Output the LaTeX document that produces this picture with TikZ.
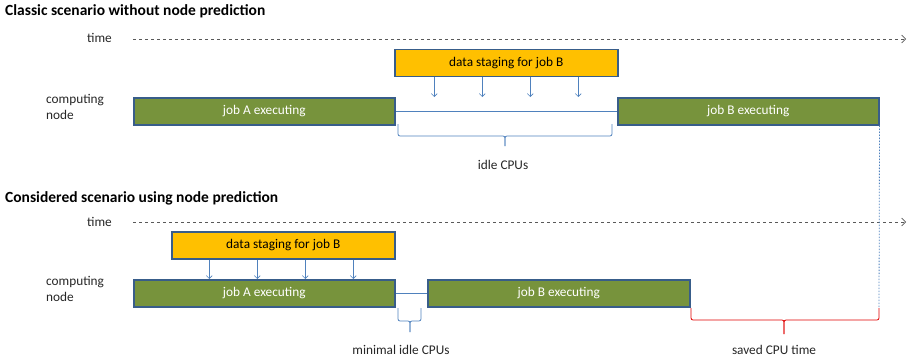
\documentclass[tikz,border=0pt]{standalone}
\usepackage{fontspec}
\setmainfont{Carlito}
\usetikzlibrary{positioning,arrows.meta}

\definecolor{jobgreen}{RGB}{119,147,60}
\definecolor{jobframe}{RGB}{56,93,138}
\definecolor{stageyellow}{RGB}{255,192,0}
\definecolor{linkblue}{RGB}{79,129,189}
\definecolor{savedred}{RGB}{224,0,0}

\begin{document}
\begin{tikzpicture}[x=1pt, y=-1pt,
	job/.style={rectangle, draw=jobframe, line width=1.5pt, fill=jobgreen,
		text=white, minimum height=27pt, inner sep=0pt, anchor=north west,
		font=\fontsize{13.3}{16}\selectfont},
	stage/.style={rectangle, draw=jobframe, line width=1.5pt, fill=stageyellow,
		text=black, minimum height=27pt, inner sep=0pt, anchor=north west,
		font=\fontsize{13.3}{16}\selectfont},
	title/.style={anchor=base west, inner sep=0pt, font=\fontsize{15.5}{18}\selectfont\bfseries},
	lbl/.style={inner sep=0pt, text=black!85, font=\fontsize{13.3}{16}\selectfont},
	timeaxis/.style={dashed, draw=black!65, line width=0.6pt,
		-{Straight Barb[length=4pt,width=8pt]}},
	feed/.style={draw=linkblue, line width=0.6pt, -{Straight Barb[length=3pt,width=6pt]}},
	idle/.style={draw=linkblue, line width=0.8pt},
	cpubrace/.style={draw=linkblue, line width=0.8pt, rounded corners=2pt},
	savedbrace/.style={draw=savedred, line width=0.8pt, rounded corners=2pt},
	guide/.style={draw=linkblue, line width=0.8pt, dash pattern=on 1.5pt off 1.5pt}
	]
	\useasboundingbox (0,0) rectangle (913,361);

	% classic scenario
	\node (title1) [title] at (5,16) {Classic scenario without node prediction};
	\node (time1) [lbl, anchor=base east] at (112,43) {time};
	\coordinate (t1s) at (133,39);
	\coordinate (t1e) at (906,39);
	\draw[timeaxis] (t1s) -- (t1e);
	\node (stage1) [stage, minimum width=223pt] at (394,49) {data staging for job B};
	\node (cn1) [lbl, align=left, anchor=west] at (46,107) {computing\\node};
	\node (jobA1) [job, minimum width=261pt] at (133,97) {job A executing};
	\node (jobB1) [job, minimum width=261pt] at (617,97) {job B executing};
	\foreach \d in {-72,-24,24,72}
		\draw[feed] ([xshift=\d]stage1.south) -- ([xshift=\d]stage1.south |- jobB1.north);
	\draw[idle] (jobA1.east) -- (jobB1.west);
	\draw[cpubrace] (398,124) -- (398,136) -- (505,136) -- (505,146);
	\draw[cpubrace] (505,146) -- (505,136) -- (612,136) -- (612,124);
	\node (idle1) [lbl, anchor=base] at (503,169) {idle CPUs};

	% considered scenario
	\node (title2) [title] at (5,202) {Considered scenario using node prediction};
	\node (time2) [lbl, anchor=base east] at (112,226) {time};
	\coordinate (t2s) at (133,222);
	\coordinate (t2e) at (906,222);
	\draw[timeaxis] (t2s) -- (t2e);
	\node (stage2) [stage, minimum width=223pt] at (171,231) {data staging for job B};
	\node (cn2) [lbl, align=left, anchor=west] at (46,289) {computing\\node};
	\node (jobA2) [job, minimum width=261pt] at (133,279) {job A executing};
	\node (jobB2) [job, minimum width=262pt] at (427,279) {job B executing};
	\foreach \d in {-74,-26,22,70}
		\draw[feed] ([xshift=\d]stage2.south) -- ([xshift=\d]stage2.south |- jobA2.north);
	\draw[idle] (jobA2.east) -- (jobB2.west);
	\draw[cpubrace] (398,308) -- (398,321) -- (410,321) -- (410,332);
	\draw[cpubrace] (410,332) -- (410,321) -- (421,321) -- (421,308);
	\node (idle2) [lbl, anchor=base] at (401,354) {minimal idle CPUs};

	% saved time
	\coordinate (savedend) at (879,308);
	\draw[guide] (jobB1.south east) -- (savedend);
	\draw[savedbrace] (691,308) -- (691,320) -- (784,320) -- (784,334);
	\draw[savedbrace] (784,334) -- (784,320) -- (879,320) -- (savedend);
	\node (saved) [lbl, anchor=base] at (774,354) {saved CPU time};
\end{tikzpicture}
\end{document}
